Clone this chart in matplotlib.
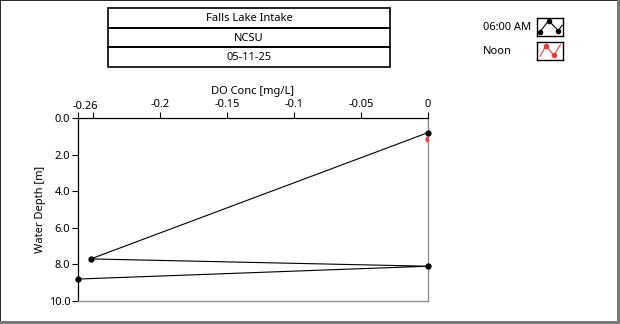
import matplotlib
matplotlib.use("Agg")
from matplotlib import pyplot as plt
from matplotlib.patches import Rectangle
from matplotlib import transforms
import numpy as np

plt.rcParams['font.family'] = ['Noto Sans', 'DejaVu Sans']
plt.rcParams['font.size'] = 8

# data
title_rows = ["Falls Lake Intake", "NCSU", "05-11-25"]
series_names = ["06:00 AM", "Noon"]
am_do = [0.0, -0.2515, 0.0, -0.261]
am_depth = [0.8, 7.7, 8.1, 8.8]
noon_do = [0.0, 0.0]
noon_depth = [-0.4, 1.15]
x_ticks = [-0.261, -0.25, -0.2, -0.15, -0.1, -0.05, 0.0]
x_ticklabels = ["", "", "-0.2", "-0.15", "-0.1", "-0.05", "0"]
x_min_label = "-0.26"
y_ticks = [0.0, 2.0, 4.0, 6.0, 8.0, 10.0]

W, H = 620, 324
fig = plt.figure(figsize=(W / 100, H / 100), dpi=100)
fig.patch.set_facecolor('white')

def fx(px):
    return px / W

def fy(py):
    return 1 - py / H

# outer frame: thin black top/left, thick gray bottom/right
fig.add_artist(Rectangle((0, 0), 1, 1, transform=fig.transFigure, fill=False,
                         edgecolor='black', lw=1.2))
fig.add_artist(Rectangle((fx(617), 0), fx(3), 1, transform=fig.transFigure,
                         facecolor='#7a7a7a', edgecolor='none'))
fig.add_artist(Rectangle((0, 0), 1, 3 / H, transform=fig.transFigure,
                         facecolor='#7a7a7a', edgecolor='none'))

# title boxes
row_edges = [8, 27.5, 47, 67]
for i, txt in enumerate(title_rows):
    y0, y1 = row_edges[i], row_edges[i + 1]
    fig.add_artist(Rectangle((fx(108), fy(y1)), fx(390) - fx(108), fy(y0) - fy(y1),
                             transform=fig.transFigure, fill=False,
                             edgecolor='black', lw=1.2))
    fig.text(fx(249), fy((y0 + y1) / 2 + 1), txt, ha='center', va='center')

# main plot
ax = fig.add_axes([fx(78), fy(301), fx(428) - fx(78), fy(118) - fy(301)])
ax.plot(am_do, am_depth, color='black', lw=0.8, marker='o', ms=3.5,
        clip_on=False, zorder=3)
ax.plot(noon_do, noon_depth, color='#e05a5a', lw=0.9, marker='o', ms=3.5,
        mfc='#e8403f', mec='#e8403f', zorder=4)
ax.set_xlim(-0.261, 0.0)
ax.set_ylim(10.0, 0.0)
ax.xaxis.tick_top()
ax.xaxis.set_label_position('top')
ax.set_xticks(x_ticks)
ax.set_xticklabels(x_ticklabels)
# min label sits between the two leftmost ticks, like the original
trans = transforms.blended_transform_factory(ax.transData, ax.transAxes)
ax.text((x_ticks[0] + x_ticks[1]) / 2, 1.0, x_min_label, transform=trans,
        ha='center', va='bottom', fontsize=8,
        transform_rotates_text=False).set_y(1.0 + 6.5 / (301 - 118))
ax.set_yticks(y_ticks)
ax.set_yticklabels(["%.1f" % v for v in y_ticks])
ax.tick_params(axis='both', length=4, width=0.8, pad=1.5, colors='black')
ax.set_xlabel("DO Conc [mg/L]", labelpad=4)
ax.set_ylabel("Water Depth [m]", labelpad=2)
ax.spines['left'].set_color('black')
ax.spines['top'].set_color('black')
ax.spines['right'].set_color('#8a8a8a')
ax.spines['bottom'].set_color('#8a8a8a')
for s in ax.spines.values():
    s.set_linewidth(0.9)

# legend
leg_y = [27, 51]
leg_cols = ['black', '#e8403f']
icons = [([0.12, 0.45, 0.82, 0.97], [0.25, 0.85, 0.3, 0.6]),
         ([0.12, 0.35, 0.65, 0.9], [0.2, 0.8, 0.25, 0.85])]
marks = [[0, 1, 2], [1, 2]]
for i, name in enumerate(series_names):
    fig.text(fx(483), fy(leg_y[i]), name, ha='left', va='center')
    iax = fig.add_axes([fx(537), fy(leg_y[i] + 9), fx(26), fy(0) - fy(18)])
    iax.plot(icons[i][0], icons[i][1], color=leg_cols[i], lw=0.8,
             marker='o', ms=3, markevery=marks[i])
    iax.set_xlim(0, 1)
    iax.set_ylim(0, 1)
    iax.set_xticks([])
    iax.set_yticks([])
    for s in iax.spines.values():
        s.set_linewidth(1.0)
        s.set_color('black')

fig.savefig("out.png", dpi=100, facecolor='white')
